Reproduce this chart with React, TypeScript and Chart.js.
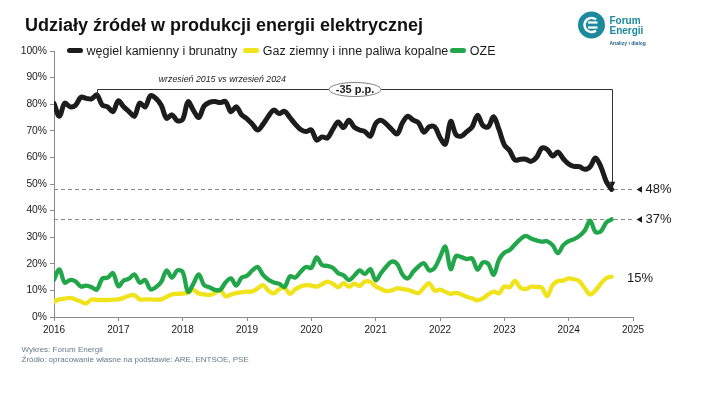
import React, { useEffect, useRef } from "react";
import { Chart, registerables } from "chart.js";

Chart.register(...registerables);

const FONT = "'Liberation Sans', Arial, Helvetica, sans-serif";

// Monthly data: January 2016 – September 2024 (share of electricity production, %)
const START_YEAR = 2016;

const coal = [
  80.3, 75.5, 80.4, 79, 79.6, 82.6, 82.2, 82, 83.5, 79.7,
  79, 77.2, 81.3, 79, 77.2, 75.5, 80.4, 79, 83.2, 82.2,
  79.6, 74.7, 76, 73.8, 74.3, 80.9, 77.7, 75, 79.3, 80.7,
  81, 80.6, 81, 77.2, 79, 76, 74.5, 72.5, 70.3, 72.5,
  75.5, 77.8, 76.5, 77.3, 75, 72.5, 70.5, 69.7, 70.3, 66.5,
  67.7, 67.3, 70.5, 73.3, 71.2, 74, 71.4, 70.3, 69.7, 68,
  72.7, 74, 72.5, 70.5, 68.8, 73, 75.5, 74, 73, 69.5,
  71.5, 71.5, 67.5, 65, 73.5, 68.5, 68, 69.7, 71.5, 75.8,
  72, 71.5, 75.3, 70.5, 64.7, 62.5, 59, 59.3, 59.3, 58.5,
  60, 63.5, 63, 60.5, 62, 59.5, 57.5, 56.6, 56.5, 55.5,
  56.5, 59.8, 56.5, 51, 48,
];

const gas = [
  5.8, 6.6, 6.9, 7.2, 6.6, 5.8, 5.1, 6.6, 6.4, 6.4,
  6.4, 6.5, 6.6, 7.2, 8, 8.2, 6.6, 6.6, 6.6, 6.5,
  6.6, 7.6, 8.5, 8.7, 8.8, 9.2, 10.2, 8.8, 8.5, 8.3,
  9, 10.2, 7.8, 8.4, 9, 9.3, 9.5, 9.6, 10.8, 12,
  9.9, 8.9, 10.5, 11, 8.7, 10.4, 11.5, 12, 11.8, 11.4,
  12.3, 13.3, 12.5, 11.2, 12.7, 11.4, 12.5, 11.7, 13.3, 13.2,
  11.5, 10.5, 9.7, 10, 10.8, 10.5, 10.2, 9.5, 9, 11,
  12.7, 9.9, 10.3, 9.5, 8.7, 9.1, 8.5, 7.6, 7, 6.3,
  7, 8.5, 9.5, 8.9, 11.5, 11.2, 13.6, 11, 10.5, 11.4,
  11.3, 11, 7.8, 12, 13.5, 13.7, 14.5, 14.2, 13.5, 10.8,
  8.5, 10, 12.5, 14.6, 15.2,
];

const oze = [
  14, 17.9, 12.9, 13.9, 13.4, 11.5, 11.8, 11.2, 10.3, 14.4,
  14.8, 16.5, 11.6, 13.7, 14.4, 16, 12.9, 13.9, 10.4, 11.2,
  13.2, 17.5, 14.8, 17.5, 16.9, 9.5, 12.5, 16, 12, 11.2,
  10.2, 10.2, 13, 14.5, 11.8, 14.8, 15.5, 17.5, 18.8, 15.8,
  14, 13, 12.5, 11.3, 15.3, 14.8, 17, 18.8, 18.5, 22.4,
  19.5, 19.2, 18.5, 16.5, 15.7, 13.9, 15.5, 17.5, 16.2, 18,
  13.8, 16.5, 19, 20.8, 20, 16, 14.5, 17, 19, 20.2,
  17.5, 18.5, 22.5, 26.4, 18, 23, 22.5, 21.8, 22, 17.8,
  20.5, 20, 15.9, 21.5, 24.2, 25.2, 27.3, 29.3, 30.5, 29.5,
  28.8, 28.3, 28.5, 27, 24, 27, 28.5, 29.3, 30.5, 32.5,
  36.2, 32, 32.2, 35.5, 36.7,
];

const seriesNames = [
  "węgiel kamienny i brunatny",
  "Gaz ziemny i inne paliwa kopalne",
  "OZE",
];
const seriesColors = ["#1c1c1c", "#f0e31c", "#21a74a"];
const seriesWidths = [5, 4.3, 4.3];

const yearTicks = [2016, 2017, 2018, 2019, 2020, 2021, 2022, 2023, 2024, 2025];
const percentTicks = [0, 10, 20, 30, 40, 50, 60, 70, 80, 90, 100];

const title = "Udziały źródeł w produkcji energii elektrycznej";
const bracketNote = "wrzesień 2015 vs wrzesień 2024";
const bracketLabel = "-35 p.p.";
const bracketStartMonth = 8;
const bracketLevel = 85.7;
const notePosition = 2018.616;
const footer = [
  "Wykres: Forum Energii",
  "Źródło: opracowanie własne na podstawie: ARE, ENTSOE, PSE",
];

const monthValue = (i: number) => START_YEAR + i / 12;
const toPoints = (arr: number[]) => arr.map((v, i) => ({ x: monthValue(i), y: v }));

const overlayPlugin = {
  id: "overlay",
  beforeDatasetsDraw(chart: any) {
    const { ctx, scales } = chart;
    const x = scales.x;
    const y = scales.y;
    ctx.save();
    ctx.strokeStyle = "#8a8a8a";
    ctx.lineWidth = 1;
    ctx.setLineDash([4, 3]);
    for (const v of [coal[coal.length - 1], oze[oze.length - 1]]) {
      const py = Math.round(y.getPixelForValue(v)) + 0.5;
      ctx.beginPath();
      ctx.moveTo(x.left, py);
      ctx.lineTo(x.right + 1, py);
      ctx.stroke();
    }
    ctx.restore();
  },
  afterDatasetsDraw(chart: any) {
    const { ctx, scales } = chart;
    const x = scales.x;
    const y = scales.y;
    const last = coal.length - 1;
    ctx.save();

    // end labels with triangles
    ctx.fillStyle = "#1a1a1a";
    ctx.textBaseline = "middle";
    ctx.textAlign = "left";
    ctx.font = `13px ${FONT}`;
    for (const v of [coal[last], oze[last]]) {
      const py = Math.round(y.getPixelForValue(v)) + 0.5;
      ctx.beginPath();
      ctx.moveTo(x.right + 3.5, py);
      ctx.lineTo(x.right + 9, py - 3.2);
      ctx.lineTo(x.right + 9, py + 3.2);
      ctx.closePath();
      ctx.fill();
      ctx.fillText(`${Math.round(v)}%`, x.right + 12.5, py);
    }
    const gy = y.getPixelForValue(gas[last]);
    ctx.fillText(`${Math.round(gas[last])}%`, x.right - 6, gy + 1.5);

    // bracket
    const bx0 = Math.round(x.getPixelForValue(monthValue(bracketStartMonth))) + 0.5;
    const bx1 = Math.round(x.getPixelForValue(monthValue(last))) + 0.5;
    const by = Math.round(y.getPixelForValue(bracketLevel)) + 0.5;
    const endY = y.getPixelForValue(coal[last]);
    ctx.strokeStyle = "#333";
    ctx.lineWidth = 1;
    ctx.beginPath();
    ctx.moveTo(bx0, by + 6);
    ctx.lineTo(bx0, by);
    ctx.lineTo(bx1, by);
    ctx.lineTo(bx1, endY - 6);
    ctx.stroke();
    ctx.fillStyle = "#1a1a1a";
    ctx.beginPath();
    ctx.moveTo(bx1, endY - 1.5);
    ctx.lineTo(bx1 - 2.8, endY - 7.5);
    ctx.lineTo(bx1 + 2.8, endY - 7.5);
    ctx.closePath();
    ctx.fill();

    // ellipse label
    const cx = (bx0 + bx1) / 2;
    ctx.beginPath();
    ctx.ellipse(cx, by, 26, 7, 0, 0, Math.PI * 2);
    ctx.fillStyle = "#ffffff";
    ctx.fill();
    ctx.strokeStyle = "#808080";
    ctx.stroke();
    ctx.fillStyle = "#1a1a1a";
    ctx.textAlign = "center";
    ctx.font = `bold 11px ${FONT}`;
    ctx.fillText(bracketLabel, cx, by + 0.5);

    // note
    ctx.font = `italic 8.8px ${FONT}`;
    ctx.fillText(bracketNote, x.getPixelForValue(notePosition), by - 9.5);

    ctx.restore();
  },
  afterDraw(chart: any) {
    // logo mark
    const { ctx } = chart;
    ctx.save();
    const cx = 591.5;
    const cy = 25;
    ctx.fillStyle = "#1b8a9c";
    ctx.beginPath();
    ctx.arc(cx, cy, 13.5, 0, Math.PI * 2);
    ctx.fill();
    ctx.strokeStyle = "#ffffff";
    ctx.lineWidth = 2.6;
    ctx.beginPath();
    ctx.arc(cx, cy, 7, Math.PI * 0.28, Math.PI * 1.72);
    ctx.stroke();
    ctx.fillStyle = "#ffffff";
    ctx.fillRect(cx - 3.5, cy - 3.6, 9.5, 2.2);
    ctx.fillRect(cx - 3.5, cy + 1.4, 9.5, 2.2);
    ctx.restore();
  },
};

export default function App() {
  const canvasRef = useRef<HTMLCanvasElement | null>(null);

  useEffect(() => {
    if (!canvasRef.current) return;
    const gridCfg = {
      drawOnChartArea: false,
      drawTicks: true,
      tickLength: 4,
      color: "#8a8a8a",
    };
    const orders = [0, 2, 1];
    const chart = new Chart(canvasRef.current, {
      type: "line",
      data: {
        datasets: [coal, gas, oze].map((arr, i) => ({
          label: seriesNames[i],
          data: toPoints(arr),
          borderColor: seriesColors[i],
          borderWidth: seriesWidths[i],
          order: orders[i],
          pointRadius: 0,
          tension: 0.35,
          fill: false,
          borderCapStyle: "round" as const,
          borderJoinStyle: "round" as const,
        })),
      },
      options: {
        animation: false,
        responsive: false,
        events: [],
        layout: { padding: { left: 0, right: 70, top: 51, bottom: 0 } },
        plugins: {
          legend: { display: false },
          tooltip: { enabled: false },
          title: { display: false },
        },
        scales: {
          x: {
            type: "linear",
            min: yearTicks[0],
            max: yearTicks[yearTicks.length - 1],
            afterBuildTicks: (s: any) => {
              s.ticks = yearTicks.map((v) => ({ value: v }));
            },
            afterFit: (s: any) => {
              s.height = 86;
            },
            grid: gridCfg,
            border: { display: true, color: "#8a8a8a", width: 1 },
            ticks: {
              padding: 3,
              color: "#1a1a1a",
              font: { family: FONT, size: 10 },
              maxRotation: 0,
              autoSkip: false,
              callback: (v: any) => String(v),
            },
          },
          y: {
            min: 0,
            max: 100,
            afterBuildTicks: (s: any) => {
              s.ticks = percentTicks.map((v) => ({ value: v }));
            },
            afterFit: (s: any) => {
              s.width = 54;
            },
            grid: gridCfg,
            border: { display: true, color: "#8a8a8a", width: 1 },
            ticks: {
              padding: 3,
              color: "#1a1a1a",
              font: { family: FONT, size: 10.3 },
              callback: (v: any) => `${v}%`,
            },
          },
        },
      },
      plugins: [overlayPlugin],
    });
    return () => chart.destroy();
  }, []);

  const legendGaps = [6, 2, 0];

  return (
    <div
      style={{
        position: "fixed",
        left: 0,
        top: 0,
        width: 703,
        height: 403,
        background: "#ffffff",
        overflow: "hidden",
        fontFamily: FONT,
      }}
    >
      <canvas
        ref={canvasRef}
        width={703}
        height={403}
        style={{ position: "absolute", left: 0, top: 0, width: 703, height: 403 }}
      />
      <div
        style={{
          position: "absolute",
          left: 25,
          top: 14.7,
          fontSize: 18,
          lineHeight: "20px",
          fontWeight: "bold",
          color: "#111",
          whiteSpace: "nowrap",
        }}
      >
        {title}
      </div>
      <div
        style={{
          position: "absolute",
          left: 67,
          top: 43.7,
          height: 14,
          display: "flex",
          alignItems: "center",
          fontSize: 12.5,
          lineHeight: "14px",
          color: "#1a1a1a",
          whiteSpace: "nowrap",
        }}
      >
        {seriesNames.map((name, i) => (
          <div
            key={name}
            style={{ display: "flex", alignItems: "center", marginRight: legendGaps[i] }}
          >
            <span
              style={{
                display: "inline-block",
                width: 16,
                height: 4.5,
                borderRadius: 2.5,
                background: seriesColors[i],
                marginRight: 3.5,
              }}
            />
            <span>{name}</span>
          </div>
        ))}
      </div>
      <div
        style={{
          position: "absolute",
          left: 609.5,
          top: 15.5,
          color: "#1b8a9c",
          fontWeight: "bold",
          fontSize: 10,
          lineHeight: "10.5px",
          whiteSpace: "nowrap",
        }}
      >
        <div>Forum</div>
        <div>Energii</div>
        <div style={{ fontSize: 5, lineHeight: "6px", marginTop: 3, color: "#1d5f86" }}>
          Analizy i dialog
        </div>
      </div>
      <div
        style={{
          position: "absolute",
          left: 21.5,
          top: 345,
          fontSize: 8,
          lineHeight: "9.7px",
          color: "#647a8c",
          whiteSpace: "nowrap",
        }}
      >
        {footer.map((line) => (
          <div key={line}>{line}</div>
        ))}
      </div>
    </div>
  );
}
